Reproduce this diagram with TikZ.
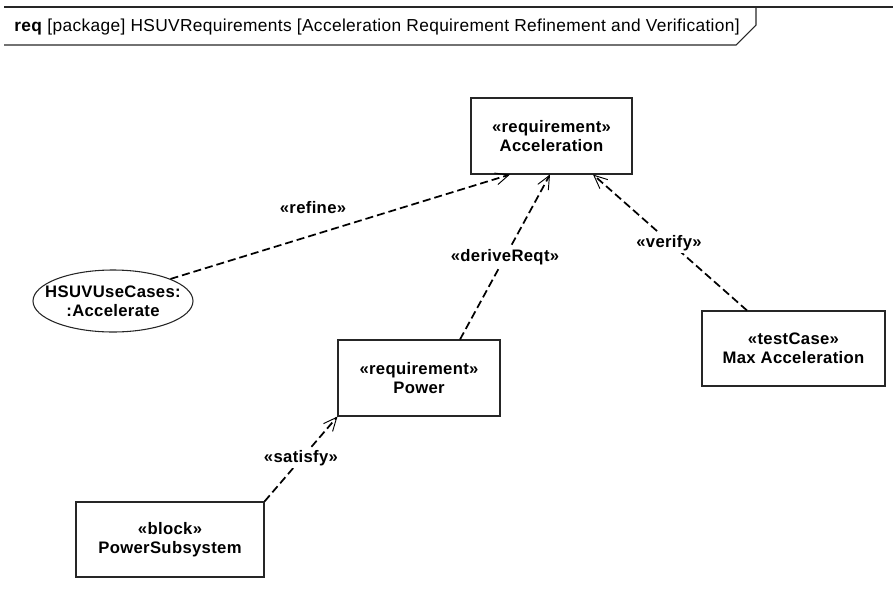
\documentclass[tikz,border=0pt]{standalone}
\usepackage{fontspec}
\setmainfont{Liberation Sans}[LetterSpace=2]
\usetikzlibrary{arrows.meta,shapes.geometric}

\tikzset{
  elem/.style={draw=black!85, line width=0.8pt, inner sep=0pt, align=center,
    font=\bfseries\fontsize{12.5}{14}\selectfont},
  rbox/.style={elem, rectangle},
  ucase/.style={elem, ellipse, inner xsep=-10pt, inner ysep=3pt},
  dep/.style={line width=1.3pt, dash pattern=on 6pt off 3pt,
    -{Straight Barb[length=10pt, width=9pt, line width=0.7pt]}},
  stereo/.style={fill=white, inner sep=1.5pt,
    font=\bfseries\fontsize{12.5}{14}\selectfont},
  frameline/.style={draw=black!85, line width=0.8pt}
}

\begin{document}
\begin{tikzpicture}[x=0.75pt, y=-0.75pt]
\useasboundingbox (0,0) rectangle (893,607);

% diagram frame header
\draw[frameline] (4,7) -- (893,7);
\draw[frameline] (4,45) -- (736,45) -- (756,25) -- (756,7);
\node[anchor=base west, inner sep=0pt, font=\fontsize{13}{14}\selectfont] (hdr) at (14,31.5)
  {\textbf{req} [package] HSUVRequirements [Acceleration Requirement Refinement and Verification]};

% elements
\node[rbox, minimum width=120.75pt, minimum height=57pt] (acc) at (551.5,136)
  {«requirement»\\Acceleration};
\node[rbox, minimum width=121.5pt, minimum height=57pt] (pow) at (419,378)
  {«requirement»\\Power};
\node[rbox, minimum width=137.25pt, minimum height=56.25pt] (tc) at (793.5,348.5)
  {«testCase»\\Max Acceleration};
\node[rbox, minimum width=141pt, minimum height=56.25pt] (ps) at (170,539.5)
  {«block»\\PowerSubsystem};
\node[ucase, minimum width=120pt, minimum height=46.5pt] (uc) at (113,301)
  {HSUVUseCases:\\:Accelerate};

% dependencies
\draw[dep] (uc.21) -- ([shift={(-41.5,0)}]acc.south);
\draw[dep] ([shift={(41,0)}]pow.north) -- ([shift={(-1.5,0)}]acc.south);
\draw[dep] ([shift={(-46.5,0)}]tc.north) -- ([shift={(41.5,0)}]acc.south);
\draw[dep] (ps.north east) -- (pow.south west);

% stereotype labels
\node[stereo, fill=none] (lrefine) at (313,208) {«refine»};
\node[stereo] (lderive) at (505,257) {«deriveReqt»};
\node[stereo] (lverify) at (669,243) {«verify»};
\node[stereo] (lsatisfy) at (301,458) {«satisfy»};
\end{tikzpicture}
\end{document}
